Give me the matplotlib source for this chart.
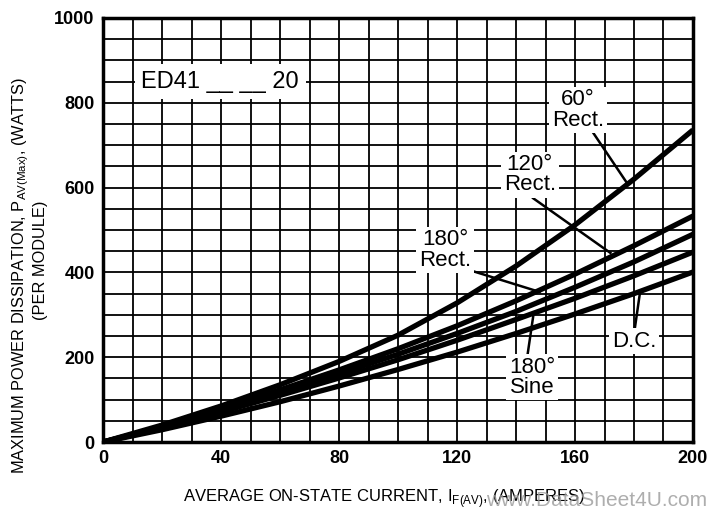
import matplotlib.pyplot as plt

plt.rcParams['font.family'] = ['Liberation Sans', 'DejaVu Sans']
plt.rcParams['mathtext.fontset'] = 'custom'
plt.rcParams['mathtext.rm'] = 'Liberation Sans'

# average on-state current (A)
current = [0, 20, 40, 60, 80, 100, 120, 140, 160, 180, 200]

# max power dissipation per module (W)
rect_60 = [0, 40, 85, 135, 190, 252, 328, 415, 512, 620, 736]
rect_120 = [0, 36, 78, 123, 170, 220, 274, 333, 396, 463, 533]
rect_180 = [0, 35, 75, 117, 161, 207, 256, 308, 365, 425, 490]
sine_180 = [0, 33, 71, 110, 151, 194, 240, 289, 339, 392, 448]
dc = [0, 29, 61, 95, 132, 171, 212, 256, 302, 350, 401]

x_ticks = [0, 40, 80, 120, 160, 200]
y_ticks = [0, 200, 400, 600, 800, 1000]

fig = plt.figure(figsize=(7.23, 5.14), dpi=100)
ax = fig.add_axes([0.1425, 0.140, 0.816, 0.825])

for v in range(0, 201, 10):
    ax.axvline(v, color='black', lw=1.3, zorder=1)
for v in range(0, 1001, 50):
    ax.axhline(v, color='black', lw=1.3, zorder=1)

for series in [rect_60, rect_120, rect_180, sine_180, dc]:
    ax.plot(current, series, color='black', lw=3.8, solid_capstyle='butt', zorder=3)

ax.set_xlim(0, 200)
ax.set_ylim(0, 1000)
ax.set_xticks(x_ticks)
ax.set_yticks(y_ticks)
ax.tick_params(labelsize=13, length=0, pad=6)
for lab in ax.get_xticklabels() + ax.get_yticklabels():
    lab.set_fontweight('bold')
for s in ax.spines.values():
    s.set_linewidth(2.5)
    s.set_zorder(5)

box = dict(facecolor='white', edgecolor='none', pad=2)
txt = dict(fontsize=16, ha='center', va='center', linespacing=0.95, bbox=box, zorder=6)

ax.text(13, 850, 'ED41 __ __ 20', fontsize=17, ha='left', va='center',
        bbox=dict(facecolor='white', edgecolor='none', pad=5), zorder=6)

labels = [
    ('60°\nRect.', (161, 783), (166, 731), (177.6, 611)),
    ('120°\nRect.', (144.7, 630), (145.8, 575), (172, 446)),
    ('180°\nRect.', (115.9, 453), (116.6, 422), (148, 354)),
    ('180°\nSine', (145.4, 153), (144, 210), (145.8, 295)),
    ('D.C.', (180, 238), (180.3, 269), (182, 351)),
]
for text, pos, start, end in labels:
    ax.text(pos[0], pos[1], text, **txt)
    ax.plot([start[0], end[0]], [start[1], end[1]], color='black', lw=1.8, zorder=4)

fig.text(0.028, 0.465, r'MAXIMUM POWER DISSIPATION, P$_{\mathrm{AV(Max)}}$, (WATTS)',
         rotation=90, fontsize=11.8, ha='center', va='center')
fig.text(0.056, 0.494, '(PER MODULE)', rotation=90, fontsize=11.8, ha='center', va='center')
fig.text(0.253, 0.031, r'AVERAGE ON-STATE CURRENT, I$_{\mathrm{F(AV)}}$, (AMPERES)',
         fontsize=12, ha='left', va='center')
fig.text(0.672, 0.008, 'www.DataSheet4U.com', fontsize=15, color='#9a9a9a', alpha=0.8,
         ha='left', va='bottom')

fig.savefig('out.png', dpi=100)
